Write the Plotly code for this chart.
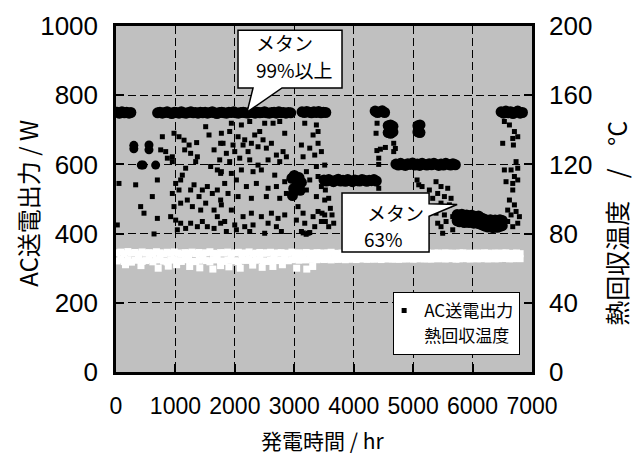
import plotly.graph_objects as go

# ---------------- data ----------------
# AC送電出力 (W) scattered points: hours, watts
ac_hr = [
    780, 976, 1060, 1145, 1230, 1357, 1509, 1565, 1650, 1761,
    836, 864, 948, 1156, 1256, 1369, 1341, 1593, 1705, 1761,
    1172, 1116, 1088, 1004, 1060, 948, 1256, 1313, 1397, 1453,
    1537, 1621, 1705, 1761, 976, 1088, 1200, 1285, 1425, 1509,
    1650, 1705, 920, 1004, 1088, 1172, 1032, 1256, 1369, 1453,
    1537, 1650, 1761, 696, 471, 415, 611, 50, 331, 696,
    22, 640, 948, 752,
    1941, 2110, 2250, 2502, 2643, 2755, 1773, 1913, 2054, 2166,
    2334, 2418, 2474, 2615, 2839, 1801, 1969, 2138, 2278, 2390,
    2530, 2699, 2811, 2867, 1857, 1998, 2222, 3176, 3372, 3316,
    3400, 3120, 3260, 3400, 3456, 3148, 3344, 1745, 1913, 2082,
    2250, 2390, 2559, 2755, 1773, 1941, 2110, 2306, 2446, 2671,
    1829, 2026, 2194, 2362, 2559, 2699, 2839, 1885, 2054, 2278,
    2530, 2755, 2867, 3204, 3372, 3512, 3260, 3400, 3456, 3204,
    3372, 3512, 1773, 1941, 2138, 2278, 2446, 2615, 2727, 2839,
    1829, 1998, 2166, 2306, 2559, 2699, 2026, 1857, 2250, 2502,
    2783, 3063, 3148, 3035, 3176, 3316, 3400, 3456, 3232, 3120,
    3344, 3512,
    4393, 4376, 4449, 4533, 4421, 4673, 4701, 4673, 4390, 4420,
    5066, 5094, 5150, 3523, 3579, 3607, 3635, 3467, 3523, 3663,
    3579, 4421,
    6535, 6620, 6704, 6676, 6760, 6687, 6507,
    6732, 6535, 6648, 6760, 6704, 6563, 6676, 6760, 6676,
    6620, 6704, 6591, 6732, 6648, 6788, 6591, 6760, 6676,
    5385, 5469, 5582, 5273, 5413, 5526, 5638, 5329, 5469, 5610,
    5385, 5526, 5666, 5413, 5554, 5469, 5666, 5497,
    3150, 3200, 3260,
]
ac_w = [
    680, 690, 680, 670, 656, 663, 709, 685, 642, 661,
    637, 618, 608, 642, 632, 622, 608, 594, 584, 574,
    589, 569, 555, 545, 526, 516, 526, 541, 507, 526,
    536, 516, 526, 497, 478, 488, 497, 478, 468, 488,
    468, 449, 449, 439, 430, 415, 411, 430, 420, 435,
    420, 415, 430, 444, 459, 478, 507, 545, 541, 555,
    425, 399, 622, 642,
    719, 714, 724, 719, 719, 724, 690, 695, 680, 671,
    685, 695, 671, 661, 690, 661, 656, 656, 661, 651,
    647, 627, 637, 622, 632, 637, 637, 719, 714, 685,
    695, 656, 647, 661, 637, 622, 627, 613, 608, 618,
    613, 598, 613, 608, 579, 574, 584, 579, 584, 569,
    545, 555, 536, 545, 531, 536, 550, 516, 507, 502,
    507, 502, 516, 579, 594, 598, 555, 565, 536, 526,
    507, 497, 483, 468, 449, 459, 449, 459, 444, 454,
    435, 425, 420, 425, 430, 420, 411, 406, 406, 401,
    406, 478, 459, 439, 430, 449, 464, 435, 401, 406,
    420, 454,
    719, 690, 644, 649, 618, 661, 646, 637, 640, 600,
    555, 541, 536, 526, 502, 473, 454, 459, 435, 430,
    420, 531,
    724, 714, 695, 675, 680, 656, 661,
    608, 584, 584, 589, 565, 550, 545, 555, 526,
    497, 483, 468, 464, 454, 449, 435, 430, 420,
    550, 536, 531, 526, 516, 507, 502, 502, 488, 483,
    459, 454, 449, 430, 435, 420, 411, 401,
    402, 398, 403,
]

# dense (continuous-operation) runs of AC output
run750a_hr = [20, 60, 100, 140, 180, 220, 250]
run750a_w = [751, 748, 752, 749, 751, 748, 750]
run750b_hr = [700, 740, 780, 820, 860, 900, 940, 980, 1020, 1060,
              1100, 1140, 1180, 1220, 1260, 1300, 1340, 1380, 1420, 1460,
              1500, 1540, 1580, 1620, 1660, 1700, 1740, 1780, 1820, 1860,
              1900, 1940, 1980, 2020, 2060, 2100, 2140, 2180, 2220, 2260,
              2300, 2340, 2380, 2420, 2460, 2500, 2540, 2580, 2620, 2660,
              2700, 2740, 2780, 2820, 2860, 2900, 2940]
run750b_w = [749, 751, 748, 750, 752, 749, 747, 751, 750, 748,
             752, 749, 748, 750, 752, 749, 750, 748, 751, 749,
             751, 748, 750, 752, 749, 747, 750, 751, 749, 748,
             751, 750, 752, 749, 748, 750, 751, 749, 748, 751,
             750, 748, 751, 749, 750, 752, 749, 748, 750, 751,
             748, 752, 749, 750, 748, 750, 749]
run750c_hr = [3130, 3170, 3210, 3250, 3290, 3330, 3370, 3410, 3450, 3490, 3530]
run750c_w = [752, 750, 753, 751, 749, 752, 750, 753, 749, 751, 750]
run750d_hr = [4360, 4400, 4440, 4480, 4520]
run750d_w = [754, 750, 752, 755, 750]
run700a_hr = [4580, 4620, 4660, 4580, 4620, 4660]
run700a_w = [712, 714, 710, 692, 690, 694]
run700b_hr = [5080, 5115, 5080, 5115]
run700b_w = [712, 714, 694, 692]
run3000_hr = [2960, 3000, 3040, 3080, 3120, 2990, 3050, 3100, 2970]
run3000_w = [560, 568, 555, 562, 548, 530, 540, 525, 510]
run550_hr = [3500, 3540, 3580, 3620, 3660, 3700, 3740, 3780, 3820, 3860,
             3900, 3940, 3980, 4020, 4060, 4100, 4140, 4180, 4220, 4260,
             4300, 4340, 4380]
run550_w = [555, 552, 556, 553, 550, 554, 557, 552, 554, 551,
            556, 553, 550, 555, 553, 552, 556, 554, 551, 554,
            553, 556, 552]
run600_hr = [4710, 4750, 4790, 4830, 4870, 4910, 4950, 4990, 5030, 5070,
             5110, 5150, 5190, 5230, 5270, 5310, 5350, 5390, 5430, 5470,
             5510, 5550, 5590, 5630, 5670, 5710]
run600_w = [601, 598, 603, 599, 597, 602, 600, 604, 598, 601,
            597, 603, 600, 598, 602, 599, 603, 600, 597, 601,
            598, 603, 600, 598, 602, 599]
run450_hr = [5740, 5780, 5820, 5860, 5900, 5940, 5980, 6020, 6060, 6100,
             6140, 6180, 6220, 6260, 6300, 6340, 6380, 6420, 6460, 6500]
run450_w_hi = [455, 453, 456, 451, 454, 450, 453, 451, 449, 451,
               446, 443, 440, 438, 440, 437, 439, 437, 440, 438]
run450_w_lo = [437, 434, 438, 432, 435, 432, 434, 430, 432, 429,
               427, 424, 421, 419, 421, 417, 419, 418, 421, 423]
run750e_hr = [6480, 6520, 6560, 6600, 6640, 6680, 6720, 6760, 6800, 6840]
run750e_w = [752, 748, 754, 749, 752, 747, 751, 754, 748, 750]
clump_hr = [300, 300, 555, 555, 425, 455, 667]
clump_w = [655, 645, 656, 642, 598, 598, 598]

# 熱回収温度 (°C)
temp_hr = [20, 80, 140, 200, 260, 320, 380, 440, 500, 560,
           620, 680, 740, 800, 860, 920, 980, 1040, 1100, 1160,
           1220, 1280, 1340, 1400, 1460, 1520, 1580, 1640, 1700, 1760,
           1820, 1880, 1940, 2000, 2060, 2120, 2180, 2240, 2300, 2360,
           2420, 2480, 2540, 2600, 2660, 2720, 2780, 2840, 2900, 2960,
           3020, 3080, 3140, 3200, 3260, 3320, 3380, 3440, 3500, 3560,
           3620, 3680, 3740, 3800, 3860, 3920, 3980, 4040, 4100, 4160,
           4220, 4280, 4340, 4400, 4460, 4520, 4580, 4640, 4700, 4760,
           4820, 4880, 4940, 5000, 5060, 5120, 5180, 5240, 5300, 5360,
           5420, 5480, 5540, 5600, 5660, 5720, 5780, 5840, 5900, 5960,
           6020, 6080, 6140, 6200, 6260, 6320, 6380, 6440, 6500, 6560,
           6620, 6680, 6740, 6800]
temp_hi = [68.9, 69.3, 68.4, 69.6, 68.8, 69.1, 68.2, 69.4, 68.7, 69.0,
           68.5, 69.5, 68.9, 68.3, 69.2, 68.6, 69.4, 68.8, 68.1, 69.0,
           68.7, 69.3, 68.5, 69.1, 68.4, 68.9, 69.5, 68.6, 68.2, 69.0,
           68.8, 69.3, 68.4, 68.9, 69.2, 68.5, 68.8, 69.4, 68.3, 68.7,
           69.1, 68.6, 68.9, 69.2, 68.4, 68.8, 69.0, 68.5, 68.7, 69.3,
           68.6, 68.9, 68.4, 69.1, 68.7, 68.5, 69.0, 68.8, 68.3, 68.9,
           69.2, 68.6, 68.4, 68.8, 69.0, 68.5, 68.7, 68.9, 68.6, 69.1,
           68.4, 68.8, 68.6, 68.9, 68.5, 69.0, 68.7, 68.4, 68.8, 68.6,
           68.9, 68.5, 68.7, 69.0, 68.4, 68.8, 68.6, 68.9, 68.5, 68.7,
           68.8, 68.4, 68.9, 68.6, 68.7, 68.5, 68.8, 68.9, 68.4, 68.7,
           68.6, 68.8, 68.5, 68.9, 68.7, 68.4, 68.8, 68.6, 68.7, 68.9,
           68.5, 68.6, 68.8, 68.4]
temp_lo = [64.2, 65.1, 63.8, 64.9, 63.5, 64.6, 65.3, 63.9, 64.4, 65.0,
           63.7, 64.8, 65.2, 64.1, 63.6, 64.7, 65.0, 64.3, 63.9, 64.9,
           65.1, 64.0, 63.8, 64.6, 65.2, 64.4, 63.7, 64.8, 65.0, 64.2,
           63.9, 64.7, 65.1, 64.3, 63.8, 64.9, 64.5, 65.2, 64.0, 64.6,
           65.0, 64.2, 63.9, 64.8, 65.1, 64.4, 64.7, 65.0, 64.3, 64.9,
           65.2, 64.6, 65.0, 64.8, 65.3, 65.1, 64.9, 65.4, 65.0, 65.2,
           64.8, 65.3, 65.1, 65.5, 64.9, 65.2, 65.4, 65.0, 65.3, 65.6,
           65.1, 65.4, 65.2, 65.5, 65.0, 65.3, 65.6, 65.2, 65.4, 65.1,
           65.5, 65.3, 65.6, 65.2, 65.4, 65.7, 65.3, 65.5, 65.2, 65.6,
           65.4, 65.7, 65.3, 65.5, 65.6, 65.2, 65.4, 65.7, 65.5, 65.3,
           65.6, 65.4, 65.5, 65.7, 65.3, 65.6, 65.4, 65.5, 65.7, 65.6,
           65.4, 65.5, 65.6, 65.5]
temp_low_hr = [160, 420, 710, 880, 1020, 1240, 1410, 1630, 1760, 1900,
               2090, 2300, 2460, 2640, 2800, 3040, 3210, 3310]
temp_low_c = [62.0, 61.5, 60.0, 61.2, 62.0, 61.0, 60.2, 59.5, 61.5, 60.8,
              60.0, 61.8, 60.5, 61.0, 62.0, 60.0, 59.5, 61.0]

x_ticks = [0, 1000, 2000, 3000, 4000, 5000, 6000, 7000]
y_ticks = [0, 200, 400, 600, 800, 1000]
y2_ticks = [0, 40, 80, 120, 160, 200]

# ---------------- figure ----------------
run_hr = (run750a_hr + run750b_hr + run750c_hr + run750d_hr + run700a_hr + run700b_hr
          + run3000_hr + run550_hr + run600_hr + run450_hr + run450_hr + run750e_hr)
run_w = (run750a_w + run750b_w + run750c_w + run750d_w + run700a_w + run700b_w
         + run3000_w + run550_w + run600_w + run450_w_hi + run450_w_lo + run750e_w)

fig = go.Figure()
fig.add_trace(go.Scatter(
    x=ac_hr, y=ac_w, mode="markers", name="AC送電出力",
    marker=dict(symbol="square", size=5, color="black", line=dict(width=0)),
))
fig.add_trace(go.Scatter(
    x=run_hr, y=run_w, mode="markers", showlegend=False, hoverinfo="skip",
    marker=dict(symbol="circle", size=11, color="black", line=dict(width=0)),
))
fig.add_trace(go.Scatter(
    x=clump_hr, y=clump_w, mode="markers", showlegend=False, hoverinfo="skip",
    marker=dict(symbol="circle", size=9, color="black", line=dict(width=0)),
))
fig.add_trace(go.Scatter(
    x=temp_hr + temp_hr + temp_low_hr, y=temp_hi + temp_lo + temp_low_c,
    mode="markers", name="熱回収温度", yaxis="y2",
    marker=dict(symbol="square", size=7, color="white", line=dict(width=0)),
))

tick_font = dict(family="Liberation Sans, Arial, sans-serif", size=26, color="black")
cjk_font = dict(family="Noto Sans CJK JP, Liberation Sans, sans-serif", size=21, color="black")

axis_common = dict(
    ticks="inside", ticklen=8, tickwidth=1.5, tickcolor="black",
    showline=True, linecolor="black", linewidth=2.5, mirror=True,
    zeroline=False,
)

fig.update_layout(
    width=638, height=461, autosize=False,
    margin=dict(l=116, r=106, t=26, b=89),
    paper_bgcolor="white", plot_bgcolor="#c0c0c0",
    xaxis=dict(range=[0, 7000], tickvals=x_ticks, showgrid=True, gridcolor="black",
               gridwidth=1.2, griddash="8px,4px", tickfont=dict(tick_font, size=23),
               ticklabelstandoff=12, **axis_common),
    yaxis=dict(range=[0, 1000], tickvals=y_ticks, showgrid=True, gridcolor="black",
               gridwidth=1.2, griddash="8px,4px", tickfont=tick_font,
               ticklabelstandoff=10, **axis_common),
    yaxis2=dict(range=[0, 200], tickvals=y2_ticks, overlaying="y", side="right",
                showgrid=False, zeroline=False, ticks="inside", ticklen=8, tickwidth=1.5,
                tickcolor="black", showline=False, tickfont=tick_font, ticklabelstandoff=16),
    showlegend=True,
    legend=dict(x=0.971, y=0.05, xanchor="right", yanchor="bottom",
                bgcolor="white", bordercolor="black", borderwidth=1.2,
                font=dict(family="Noto Sans CJK JP, Liberation Sans", size=17, color="black"),
                itemwidth=30, tracegroupgap=0, indentation=-10),
)

# callout bubbles
fig.add_shape(type="path", xref="x", yref="y", layer="above",
              path="M 2053,988 L 3803,988 L 3803,821 L 2794,821 L 2205,751 L 2306,821 L 2053,821 Z",
              fillcolor="white", line=dict(color="black", width=1.5))
fig.add_shape(type="path", xref="x", yref="y", layer="above",
              path="M 3803,517 L 5268,517 L 5268,486 L 5740,484 L 5268,450 L 5268,347 L 3803,347 Z",
              fillcolor="white", line=dict(color="black", width=1.5))

callout_font = dict(family="Noto Sans CJK JP, Liberation Sans", size=19, color="black")
fig.add_annotation(x=2330, y=951, xref="x", yref="y", text="メタン", showarrow=False,
                   xanchor="left", yanchor="middle", font=callout_font)
fig.add_annotation(x=2330, y=873, xref="x", yref="y", text="99%以上", showarrow=False,
                   xanchor="left", yanchor="middle", font=callout_font)
fig.add_annotation(x=4190, y=460, xref="x", yref="y", text="メタン", showarrow=False,
                   xanchor="left", yanchor="middle", font=callout_font)
fig.add_annotation(x=4140, y=387, xref="x", yref="y", text="63%", showarrow=False,
                   xanchor="left", yanchor="middle", font=callout_font)

# axis titles
fig.add_annotation(x=-0.2115, y=0.486, xref="paper", yref="paper", text="AC送電出力 / W",
                   textangle=-90, showarrow=False, xanchor="center", yanchor="middle",
                   font=dict(cjk_font, size=24))
fig.add_annotation(x=1.203, y=0.43, xref="paper", yref="paper",
                   text="熱回収温度\u00a0\u00a0\u00a0\u00a0/\u00a0\u00a0\u00a0\u00a0°C",
                   textangle=-90, showarrow=False, xanchor="center", yanchor="middle",
                   font=dict(cjk_font, size=25))
fig.add_annotation(x=0.497, y=-0.197, xref="paper", yref="paper", text="発電時間 / hr",
                   showarrow=False, xanchor="center", yanchor="middle", font=cjk_font)

fig.write_html("out.html", post_script="document.body.style.margin='0';",
               config={"displayModeBar": False})
